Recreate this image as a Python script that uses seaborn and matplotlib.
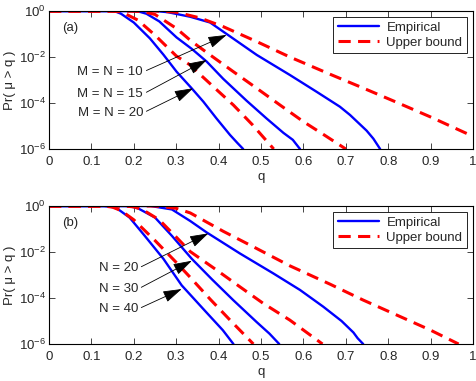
import numpy as np
import pandas as pd
import matplotlib
matplotlib.use("Agg")
import matplotlib.pyplot as plt
import seaborn as sns

# Dados (log10 da probabilidade)
# Painel (a): M = N = 10, 15, 20
emp_a_q_10 = [0, 0.25, 0.28, 0.333, 0.38, 0.419, 0.49, 0.568, 0.631, 0.686, 0.71, 0.749, 0.765, 0.781]
emp_a_p_10 = [0, 0, -0.05, -0.25, -0.5, -1.0, -1.91, -2.78, -3.51, -4.16, -4.52, -5.2, -5.55, -6]
bnd_a_q_10 = [0, 0.25, 0.30, 0.356, 0.411, 0.49, 0.568, 0.663, 0.741, 0.82, 0.899, 1.0]
bnd_a_p_10 = [0, 0, -0.05, -0.3, -0.68, -1.33, -2.0, -2.75, -3.35, -3.97, -4.6, -5.45]

emp_a_q_15 = [0, 0.195, 0.215, 0.23, 0.26, 0.301, 0.337, 0.372, 0.411, 0.466, 0.513, 0.553, 0.575, 0.592]
emp_a_p_15 = [0, 0, -0.04, -0.12, -0.45, -1.15, -1.65, -2.2, -2.95, -3.9, -4.67, -5.3, -5.6, -6]
bnd_a_q_15 = [0, 0.2, 0.225, 0.25, 0.30, 0.337, 0.38, 0.435, 0.49, 0.545, 0.60, 0.65, 0.70]
bnd_a_p_15 = [0, 0, -0.04, -0.15, -0.75, -1.33, -1.91, -2.64, -3.36, -4.09, -4.81, -5.4, -6.0]

emp_a_q_20 = [0, 0.144, 0.158, 0.17, 0.20, 0.238, 0.27, 0.301, 0.336, 0.364, 0.395, 0.427, 0.445, 0.458]
emp_a_p_20 = [0, 0, -0.03, -0.12, -0.5, -1.19, -1.9, -2.64, -3.35, -3.94, -4.67, -5.39, -5.75, -6]
bnd_a_q_20 = [0, 0.15, 0.165, 0.18, 0.21, 0.25, 0.30, 0.333, 0.35, 0.40, 0.435, 0.48, 0.53]
bnd_a_p_20 = [0, 0, -0.03, -0.12, -0.4, -1.05, -1.95, -2.35, -2.65, -3.5, -4.09, -4.95, -6.0]

# Painel (b): N = 20, 30, 40
emp_b_q_20 = [0, 0.24, 0.29, 0.333, 0.372, 0.45, 0.529, 0.592, 0.647, 0.69, 0.718, 0.728, 0.741]
emp_b_p_20 = [0, 0, -0.15, -0.65, -1.15, -2.06, -2.93, -3.65, -4.38, -5.0, -5.5, -5.75, -6]
bnd_b_q_20 = [0, 0.25, 0.30, 0.333, 0.411, 0.49, 0.568, 0.663, 0.741, 0.82, 0.899, 0.966]
bnd_b_p_20 = [0, 0, -0.1, -0.3, -1.1, -1.85, -2.6, -3.4, -4.09, -4.74, -5.39, -6]

emp_b_q_30 = [0, 0.18, 0.195, 0.21, 0.25, 0.29, 0.337, 0.385, 0.435, 0.49, 0.52, 0.543]
emp_b_p_30 = [0, 0, -0.03, -0.1, -0.5, -1.3, -2.3, -3.2, -4.1, -5.05, -5.55, -6]
bnd_b_q_30 = [0, 0.18, 0.20, 0.22, 0.26, 0.30, 0.333, 0.395, 0.45, 0.505, 0.568, 0.645]
bnd_b_p_30 = [0, 0, -0.04, -0.15, -0.6, -1.35, -1.98, -2.78, -3.51, -4.23, -4.96, -6]

emp_b_q_40 = [0, 0.13, 0.145, 0.16, 0.19, 0.226, 0.27, 0.313, 0.37, 0.41, 0.435]
emp_b_p_40 = [0, 0, -0.03, -0.1, -0.5, -1.3, -2.3, -3.45, -4.6, -5.4, -6]
bnd_b_q_40 = [0, 0.13, 0.15, 0.17, 0.20, 0.25, 0.30, 0.333, 0.38, 0.427, 0.482]
bnd_b_p_40 = [0, 0, -0.05, -0.2, -0.6, -1.5, -2.45, -3.1, -4.05, -4.96, -6]

x_ticks = [0, 0.1, 0.2, 0.3, 0.4, 0.5, 0.6, 0.7, 0.8, 0.9, 1]
x_tick_labels = ["0", "0.1", "0.2", "0.3", "0.4", "0.5", "0.6", "0.7", "0.8", "0.9", "1"]
y_ticks = [1e-6, 1e-4, 1e-2, 1]

labels_a = ["M = N = 10", "M = N = 15", "M = N = 20"]
labels_b = ["N = 20", "N = 30", "N = 40"]
# pontas das setas (q, log10 Pr) e posição do texto
arrow_a = [(0.419, -1.04), (0.372, -2.13), (0.34, -3.36)]
text_a = [(0.222, -2.65), (0.222, -3.61), (0.222, -4.43)]
arrow_b = [(0.376, -1.19), (0.337, -2.38), (0.313, -3.61)]
text_b = [(0.21, -2.71), (0.21, -3.61), (0.21, -4.48)]


def montar(curvas):
    partes = []
    for nome, tipo, q, p in curvas:
        partes.append(pd.DataFrame({"q": q, "Pr": np.power(10.0, p), "kind": tipo, "N": nome}))
    return pd.concat(partes, ignore_index=True)


df_a = montar([
    ("10", "Empirical", emp_a_q_10, emp_a_p_10), ("10", "Upper bound", bnd_a_q_10, bnd_a_p_10),
    ("15", "Empirical", emp_a_q_15, emp_a_p_15), ("15", "Upper bound", bnd_a_q_15, bnd_a_p_15),
    ("20", "Empirical", emp_a_q_20, emp_a_p_20), ("20", "Upper bound", bnd_a_q_20, bnd_a_p_20),
])
df_b = montar([
    ("20", "Empirical", emp_b_q_20, emp_b_p_20), ("20", "Upper bound", bnd_b_q_20, bnd_b_p_20),
    ("30", "Empirical", emp_b_q_30, emp_b_p_30), ("30", "Upper bound", bnd_b_q_30, bnd_b_p_30),
    ("40", "Empirical", emp_b_q_40, emp_b_p_40), ("40", "Upper bound", bnd_b_q_40, bnd_b_p_40),
])

sns.set_style("ticks")
plt.rcParams["font.family"] = ["Liberation Sans", "DejaVu Sans"]
plt.rcParams["mathtext.fontset"] = "custom"
plt.rcParams["mathtext.rm"] = "Liberation Sans"
plt.rcParams["mathtext.default"] = "regular"
plt.rcParams["font.size"] = 9.5

fig = plt.figure(figsize=(4.76, 3.81), dpi=100)
ax_a = fig.add_axes([0.1029, 0.6089, 0.8908, 0.3622])
ax_b = fig.add_axes([0.1029, 0.0971, 0.8908, 0.3622])

for ax, df, letra, labels, setas, textos in [
    (ax_a, df_a, "(a)", labels_a, arrow_a, text_a),
    (ax_b, df_b, "(b)", labels_b, arrow_b, text_b),
]:
    sns.lineplot(data=df, x="q", y="Pr", hue="kind", style="kind", units="N",
                 estimator=None, sort=False, ax=ax,
                 palette={"Empirical": "#0000ff", "Upper bound": "#ff0000"},
                 dashes={"Empirical": "", "Upper bound": (4, 2.4)})
    for line in ax.get_lines():
        line.set_linewidth(2.2 if line.get_linestyle() == "--" else 1.7)

    ax.set_yscale("log")
    ax.set_xlim(0, 1)
    ax.set_ylim(1e-6, 1)
    ax.set_xticks(x_ticks)
    ax.set_xticklabels(x_tick_labels)
    ax.set_yticks(y_ticks)
    ax.yaxis.set_minor_locator(matplotlib.ticker.NullLocator())
    ax.tick_params(direction="in", top=True, right=True, length=4, width=0.6, labelsize=9.5)
    ax.tick_params(axis="y", pad=2)
    ax.tick_params(axis="x", pad=5)
    for s in ax.spines.values():
        s.set_linewidth(0.8)
        s.set_color("black")

    ax.set_xlabel("q", labelpad=2)
    ax.set_ylabel("Pr( μ > q )", labelpad=2)
    ax.text(0.05, 10 ** -0.75, letra, ha="center", va="center")

    for txt, (tq, tp), (aq, ap) in zip(labels, textos, setas):
        ax.annotate(txt, xy=(aq, 10 ** ap), xytext=(tq, 10 ** tp), ha="right", va="center",
                    arrowprops=dict(arrowstyle="-|>,head_length=0.9,head_width=0.28",
                                    color="black", lw=0.6, relpos=(1, 0.5), shrinkA=0, shrinkB=0,
                                    mutation_scale=13))

    handles, lbls = ax.get_legend_handles_labels()
    pares = [(h, l) for h, l in zip(handles, lbls) if l in ("Empirical", "Upper bound")]
    for h, l in pares:
        h.set_linewidth(2.2 if l == "Upper bound" else 1.7)
    leg = ax.legend([h for h, _ in pares], [l for _, l in pares], loc="upper right",
                    fancybox=False, framealpha=1, edgecolor="black", handlelength=3.1,
                    borderaxespad=0.45, borderpad=0.35, labelspacing=0.2, handletextpad=0.6,
                    fontsize=9.5)
    leg.get_frame().set_linewidth(0.6)

plt.savefig("out.png", dpi=100)
